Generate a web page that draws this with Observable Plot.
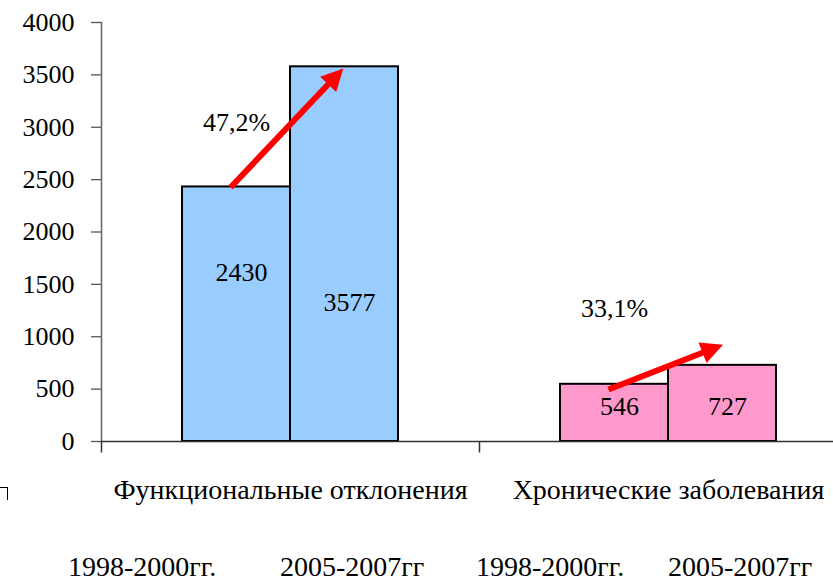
<!DOCTYPE html>
<html>
<head>
<meta charset="utf-8">
<script src="https://cdn.jsdelivr.net/npm/d3@7"></script>
<script src="https://cdn.jsdelivr.net/npm/@observablehq/plot@0.6"></script>
<style>
  html, body { margin: 0; padding: 0; background: #fff; }
  #wrap { position: relative; width: 833px; height: 582px; overflow: hidden; font-family: "Liberation Serif", "Times New Roman", serif; }
  #chart { position: absolute; left: 0; top: 0; }
  #chart svg { max-width: none !important; }
  .period { position: absolute; top: 551px; font-size: 28px; color: #000; white-space: nowrap; line-height: 32px; }
  #corner { position: absolute; left: 0; top: 487px; width: 8px; height: 13px; border-top: 1px solid #000; border-right: 1px solid #000; box-sizing: border-box; }
</style>
</head>
<body>
<div id="wrap">
  <div id="chart"></div>
  <div id="corner"></div>
  <div id="periods"></div>
</div>
<script>
const categories = ["Функциональные отклонения", "Хронические заболевания"];
const periods = ["1998-2000гг.", "2005-2007гг"];
const values = [[2430, 3577], [546, 727]];
const colors = ["#99CCFF", "#FF99CC"];
const growth = ["47,2%", "33,1%"];
// annotation heights (in data units)
const valueLabelY = [[1610, 1330], [330, 330]];
const growthLabelY = [3045, 1270];
const arrowFrom = [2425, 496];
const arrowTo = [3513, 899];
const yTicks = [0, 500, 1000, 1500, 2000, 2500, 3000, 3500, 4000];

const FONT = "'Liberation Serif', 'DejaVu Serif', serif";

const rows = [];
categories.forEach((c, i) => periods.forEach((p, j) => rows.push({
  category: c, period: p, value: values[i][j], labelY: valueLabelY[i][j], color: colors[i]
})));
const arrows = categories.map((c, i) => ({
  category: c, start: periods[0], end: periods[1], from: arrowFrom[i], to: arrowTo[i], text: growth[i], textY: growthLabelY[i]
}));

const tickSymbol = { draw(ctx) { ctx.moveTo(0, 0); ctx.lineTo(0, 11); } };

function arrowHead(color) {
  const m = d3.create("svg:marker")
    .attr("viewBox", "-15 -11 22 22")
    .attr("markerUnits", "userSpaceOnUse")
    .attr("markerWidth", 22)
    .attr("markerHeight", 22)
    .attr("refX", 0)
    .attr("refY", 0)
    .attr("orient", "auto")
    .attr("overflow", "visible");
  m.append("path").attr("d", "M-15,-11L7,0L-15,11Z").attr("fill", color).attr("stroke", "none");
  return m.node();
}

const chart = Plot.plot({
  width: 860,
  height: 582,
  marginLeft: 101,
  marginRight: 3,
  marginTop: 22,
  marginBottom: 141,
  style: { background: "transparent", color: "#000" },
  fx: { domain: categories, padding: 0, label: null },
  x: { domain: periods, paddingInner: 0, paddingOuter: 0.734, axis: null },
  y: { domain: [0, 4000], label: null },
  marks: [
    Plot.axisY({ ticks: yTicks, tickSize: 10, tickPadding: 17, fontSize: 26, fontFamily: FONT, tickFormat: d => String(d), stroke: "#555", strokeWidth: 1.3, label: null }),
    Plot.axisFx({ anchor: "bottom", tickSize: 0, tickPadding: 38, fontSize: 28, fontFamily: FONT, label: null }),
    Plot.frame({ anchor: "left", facet: "super", stroke: "#666", strokeWidth: 1.5 }),
    Plot.barY(rows, { fx: "category", x: "period", y: "value", fill: "color", stroke: "#000", strokeWidth: 2 }),
    Plot.ruleY([0], { stroke: "#333", strokeWidth: 1.5 }),
    Plot.dot([0], { frameAnchor: "bottom-left", symbol: tickSymbol, stroke: "#333", strokeWidth: 1.5, fill: "none" }),
    Plot.text(rows, { fx: "category", x: "period", y: "labelY", text: d => String(d.value), fontSize: 26, fontFamily: FONT, dx: 5, fill: "#000" }),
    Plot.link(arrows, { fx: "category", x1: "start", x2: "end", y1: "from", y2: "to", stroke: "#FF0000", strokeWidth: 6, dx: -6, strokeLinecap: "butt", markerEnd: arrowHead }),
    Plot.text(arrows, { fx: "category", x: "start", y: "textY", text: "text", fontSize: 26, fontFamily: FONT, fill: "#000" })
  ]
});
document.getElementById("chart").appendChild(chart);

const periodLefts = [68, 280, 476, 668];
const pdiv = document.getElementById("periods");
categories.forEach((c, i) => periods.forEach((p, j) => {
  const s = document.createElement("div");
  s.className = "period";
  s.style.left = periodLefts[i * 2 + j] + "px";
  s.textContent = p;
  pdiv.appendChild(s);
}));
</script>
</body>
</html>
